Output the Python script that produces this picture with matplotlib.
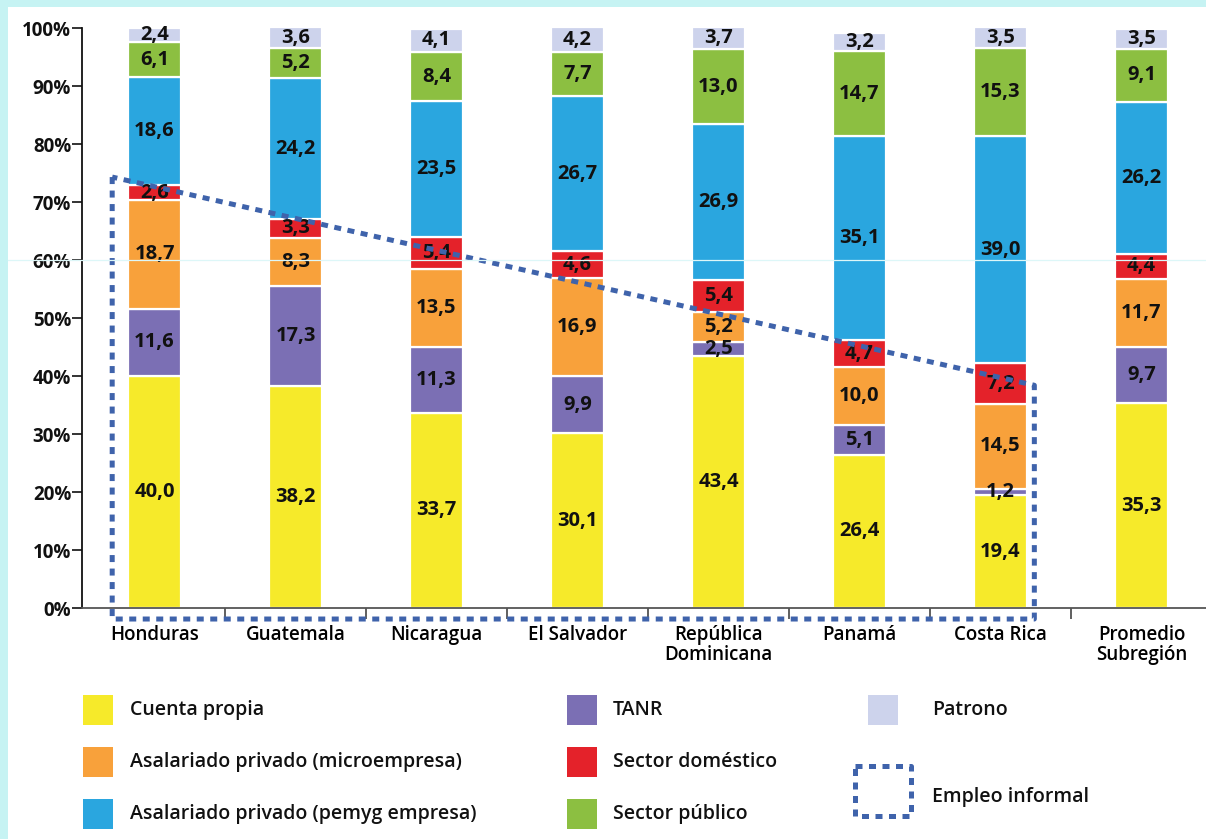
import matplotlib
matplotlib.use("Agg")
import matplotlib.pyplot as plt
from matplotlib.patches import Rectangle
from matplotlib.lines import Line2D
import numpy as np

plt.rcParams['font.family'] = ['Open Sans', 'DejaVu Sans']

# ---------------- data ----------------
countries = ["Honduras", "Guatemala", "Nicaragua", "El Salvador",
             "República\nDominicana", "Panamá", "Costa Rica", "Promedio\nSubregión"]

cuenta_propia = [40.0, 38.2, 33.7, 30.1, 43.4, 26.4, 19.4, 35.3]
tanr          = [11.6, 17.3, 11.3, 9.9, 2.5, 5.1, 1.2, 9.7]
micro         = [18.7, 8.3, 13.5, 16.9, 5.2, 10.0, 14.5, 11.7]
domestico     = [2.6, 3.3, 5.4, 4.6, 5.4, 4.7, 7.2, 4.4]
pemyg         = [18.6, 24.2, 23.5, 26.7, 26.9, 35.1, 39.0, 26.2]
publico       = [6.1, 5.2, 8.4, 7.7, 13.0, 14.7, 15.3, 9.1]
patrono       = [2.4, 3.6, 4.1, 4.2, 3.7, 3.2, 3.5, 3.5]

series_names = ["Cuenta propia", "TANR", "Asalariado privado (microempresa)",
                "Sector doméstico", "Asalariado privado (pemyg empresa)",
                "Sector público", "Patrono"]
series_values = [cuenta_propia, tanr, micro, domestico, pemyg, publico, patrono]
series_colors = ["#F6EA2A", "#7B6FB4", "#F8A13B", "#E4222A", "#2AA6DF",
                 "#8CBF41", "#CDD3EC"]

yticks = [0, 10, 20, 30, 40, 50, 60, 70, 80, 90, 100]
ytick_labels = ["0%", "10%", "20%", "30%", "40%", "50%", "60%", "70%", "80%", "90%", "100%"]

# informal-employment outline (data coordinates)
informal_x = [-0.30, -0.30, 6.24, 6.24, -0.30]
informal_y = [74.3, -1.9, -1.9, 38.4, 74.3]
informal_label = "Empleo informal"

DASH = "#3F63AB"
BG = "#C6F3F3"

# ---------------- figure ----------------
W, H = 1206, 839
fig = plt.figure(figsize=(W / 100, H / 100), dpi=100)
fig.patch.set_facecolor(BG)
fig.add_artist(Rectangle((8 / W, 0), 1, 1 - 7 / H, transform=fig.transFigure,
                         facecolor="white", edgecolor="none", zorder=-10))

ax_left, ax_right = 82, 1206
y0, y100 = 608, 28
ax = fig.add_axes([ax_left / W, (H - y0) / H, (ax_right - ax_left) / W, (y0 - y100) / H])
ax.set_facecolor("none")

x = np.arange(len(countries))
bw = 0.38
bottom = np.zeros(len(countries))
for name, vals, col in zip(series_names, series_values, series_colors):
    vals = np.array(vals)
    ax.bar(x, vals, bw, bottom=bottom, color=col, edgecolor="white",
           linewidth=1.6, zorder=2, label=name)
    for xi, b, v in zip(x, bottom, vals):
        ax.text(xi, b + v / 2, f"{v:.1f}".replace(".", ","), ha="center", va="center",
                fontsize=14.5, fontweight="bold", color="#111111", zorder=4)
    bottom += vals

ax.plot(informal_x, informal_y, color=DASH, lw=3.6, linestyle=(0, (1.4, 1.3)),
        dash_capstyle="butt", clip_on=False, zorder=5)

px_per_unit = 141
left_units = (154.5 - ax_left) / px_per_unit
ax.set_xlim(-left_units, -left_units + (ax_right - ax_left) / px_per_unit)
ax.set_ylim(0, 100)

ax.set_yticks(yticks)
ax.set_yticklabels(ytick_labels, fontsize=13.5, fontweight="bold")
ax.set_xticks(x)
ax.set_xticklabels(countries, fontsize=13.5, fontweight="semibold", linespacing=1.0)
ax.tick_params(axis="x", length=0, pad=12)
ax.set_xticks(np.arange(0.5, len(countries) - 0.5, 1.0), minor=True)
ax.tick_params(axis="x", which="minor", length=8, width=1.2, color="#444444", direction="out")
ax.tick_params(axis="y", length=7, width=1.2, direction="out", pad=0.8, colors="#111111")

for s in ["top", "right"]:
    ax.spines[s].set_visible(False)
ax.spines["left"].set_linewidth(1.3)
ax.spines["left"].set_color("#111111")
ax.spines["bottom"].set_linewidth(1.3)
ax.spines["bottom"].set_color("#555555")

# faint scan line artefact at 60%
yl = (H - (y0 - 0.60 * (y0 - y100))) / H
fig.add_artist(Line2D([8 / W, 1], [yl, yl], transform=fig.transFigure,
                      color="#DDF7F8", lw=0.9, zorder=6))

# ---------------- legend ----------------
def fx(px):
    return px / W

def fy(py):
    return (H - py) / H

rows = [710, 762, 814]
cols = [(83, 130), (567, 613), (868, 932)]
order = [[0, 2, 4], [1, 3, 5], [6]]
psz = 30
for (px_, tx_), idxs in zip(cols, order):
    for r, i in zip(rows, idxs):
        fig.add_artist(Rectangle((fx(px_), fy(r + psz / 2)), psz / W, psz / H,
                                 transform=fig.transFigure, facecolor=series_colors[i],
                                 edgecolor="none", zorder=3))
        fig.text(fx(tx_), fy(r), series_names[i], ha="left", va="center",
                 fontsize=14, fontweight="semibold", color="#111111")

# informal legend icon
ix0, ix1, iy0, iy1 = 855, 911, 766, 816
fig.add_artist(Line2D([fx(ix0), fx(ix1), fx(ix1), fx(ix0), fx(ix0)],
                      [fy(iy0), fy(iy0), fy(iy1), fy(iy1), fy(iy0)],
                      transform=fig.transFigure, color=DASH, lw=3.6,
                      linestyle=(0, (1.4, 1.3)), dash_capstyle="butt"))
fig.text(fx(932), fy(797), informal_label, ha="left", va="center",
         fontsize=14, fontweight="semibold", color="#111111")

fig.savefig("out.png", dpi=100, facecolor=fig.get_facecolor())
